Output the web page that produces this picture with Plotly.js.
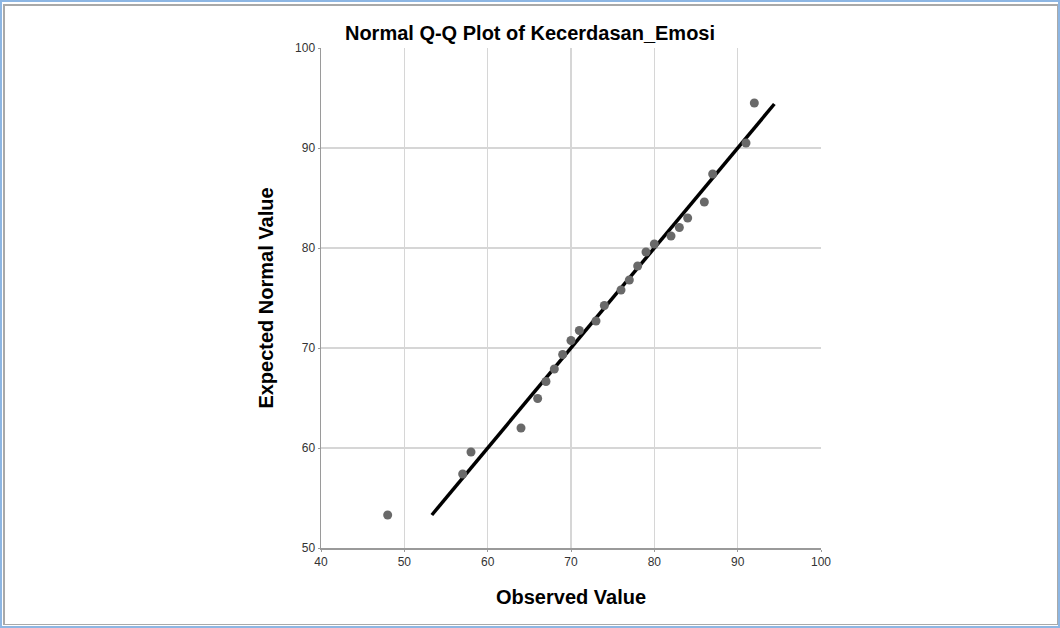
<!DOCTYPE html>
<html>
<head>
<meta charset="utf-8">
<script src="https://cdn.plot.ly/plotly-3.0.1.min.js"></script>
<style>
  html, body { margin: 0; padding: 0; background: #ffffff; }
  #wrap { position: relative; width: 1060px; height: 628px; overflow: hidden; }
  #chart { position: absolute; left: 0; top: 0; width: 1060px; height: 628px; }
  .frame { position: absolute; pointer-events: none; box-sizing: border-box; }
</style>
</head>
<body>
<div id="wrap">
  <div id="chart"></div>
  <div class="frame" style="left:0;top:0;width:1060px;height:628px;border:2px solid #8db6e3;"></div>
  <div class="frame" style="left:3px;top:4px;width:1055px;height:621px;border:2px solid #a9a9a9;border-right-width:1px;border-bottom-width:1px;"></div>
</div>
<script>
// Observed values (x) and expected normal values (y)
const observed = [48, 57, 58, 64, 66, 67, 68, 69, 70, 71, 73, 74, 76, 77, 78, 79, 80, 82, 83, 84, 86, 87, 91, 92];
const expected = [53.3, 57.4, 59.6, 62.0, 64.95, 66.65, 67.9, 69.35, 70.75, 71.75, 72.7, 74.25, 75.8, 76.8, 78.2, 79.6, 80.4, 81.2, 82.05, 83.0, 84.6, 87.4, 90.5, 94.5];
// Reference line y = x, spanning the expected range
const lineX = [53.3, 94.4];
const lineY = [53.3, 94.4];
const xTicks = [40, 50, 60, 70, 80, 90, 100];
const yTicks = [50, 60, 70, 80, 90, 100];

const traces = [
  {
    x: lineX, y: lineY, type: 'scatter', mode: 'lines',
    line: { color: '#000000', width: 3.5 }, hoverinfo: 'skip', showlegend: false
  },
  {
    x: observed, y: expected, type: 'scatter', mode: 'markers',
    marker: { color: '#696969', size: 9 }, showlegend: false
  }
];

const FONT = 'Liberation Sans, Arial, sans-serif';
const axisCommon = {
  showgrid: true, gridcolor: '#d6d6d6', gridwidth: 1.5,
  showline: true, linecolor: '#9a9a9a', linewidth: 1.5,
  zeroline: false, ticks: 'outside', ticklen: 2, tickcolor: '#9a9a9a',
  tickfont: { family: FONT, size: 12, color: '#333333' }
};

const layout = {
  width: 1060, height: 628,
  paper_bgcolor: '#ffffff', plot_bgcolor: '#ffffff',
  margin: { l: 321, r: 239, t: 48, b: 80, pad: 0 },
  title: {
    text: '<b>Normal Q-Q Plot of Kecerdasan_Emosi</b>',
    font: { family: FONT, size: 20, color: '#000000' },
    x: 0.5, xanchor: 'center', xref: 'container', y: 0.947, yanchor: 'middle'
  },
  xaxis: Object.assign({}, axisCommon, {
    range: [40, 100], tickvals: xTicks, ticktext: xTicks.map(String),
    title: { text: '<b>Observed Value</b>', standoff: 22,
      font: { family: FONT, size: 20, color: '#000000' } }
  }),
  yaxis: Object.assign({}, axisCommon, {
    range: [50, 100], tickvals: yTicks, ticktext: yTicks.map(String),
    title: { text: '<b>Expected Normal Value</b>', standoff: 16,
      font: { family: FONT, size: 20, color: '#000000' } }
  })
};

Plotly.newPlot('chart', traces, layout, { displayModeBar: false, staticPlot: true });
</script>
</body>
</html>
